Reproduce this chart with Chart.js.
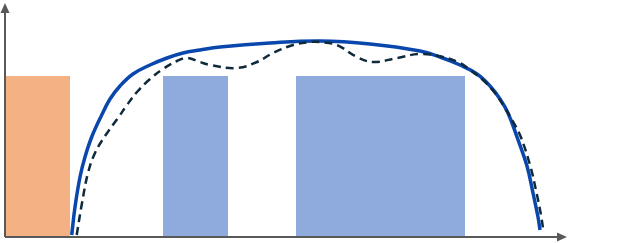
<!DOCTYPE html>
<html>
<head>
<meta charset="utf-8">
<script src="https://cdn.jsdelivr.net/npm/chart.js@4/dist/chart.umd.min.js"></script>
<style>
  html, body { margin: 0; padding: 0; background: #fff; }
  #wrap { width: 620px; height: 243px; }
</style>
</head>
<body>
<div id="wrap"><canvas id="chart"></canvas></div>
<script>
// x: distance from the y axis, y: height above the x axis
var barOrange = [[0, 0], [0, 161], [65, 161], [65, 0]];
var barBlue1 = [[158, 0], [158, 161], [223, 161], [223, 0]];
var barBlue2 = [[291, 0], [291, 161], [460, 161], [460, 0]];

var solidX = [66.7, 70, 75, 80, 86.7, 96.7, 105, 115, 128, 145, 162, 178, 195, 215, 265, 315, 365, 415, 435, 455, 472, 485, 495, 503, 512, 522, 528, 533, 535];
var solidY = [2, 30, 60, 80, 100, 122, 138, 151, 163, 172, 179, 184, 187, 190, 194, 196, 193, 186, 180, 172, 163, 151, 138, 124, 100, 71, 44, 20, 7];

var dashX = [71.7, 77, 83, 90, 100, 113, 122, 132, 145, 158, 172, 182, 195, 205, 232, 252, 268, 288, 305, 315, 332, 352, 368, 392, 415, 438, 455, 465, 478, 490, 500, 507, 515, 525, 532, 536, 538];
var dashY = [2, 34, 64, 84, 101, 119, 132, 145, 158, 168, 176, 179, 175, 172, 169, 175, 184, 192, 195, 195, 192, 180, 175, 179, 183, 180, 174, 167, 157, 144, 129, 117, 102, 72, 42, 22, 9];

function pts(xs, ys) {
  var out = [];
  for (var i = 0; i < xs.length; i++) out.push({x: xs[i], y: ys[i]});
  return out;
}
function rect(r) {
  return r.map(function (p) { return {x: p[0], y: p[1]}; });
}

var axisArrows = {
  id: 'axisArrows',
  afterDraw: function (chart) {
    var c = chart.ctx, a = chart.chartArea;
    c.save();
    c.strokeStyle = '#595959';
    c.fillStyle = '#595959';
    c.lineWidth = 2;
    c.beginPath();
    c.moveTo(a.left, a.bottom);
    c.lineTo(a.right - 4, a.bottom);
    c.moveTo(a.left, a.bottom);
    c.lineTo(a.left, a.top + 6);
    c.stroke();
    // arrow heads
    c.beginPath();
    c.moveTo(a.right + 2, a.bottom);
    c.lineTo(a.right - 8, a.bottom - 4.5);
    c.lineTo(a.right - 8, a.bottom + 4.5);
    c.closePath();
    c.fill();
    c.beginPath();
    c.moveTo(a.left, a.top - 2);
    c.lineTo(a.left - 4.5, a.top + 8);
    c.lineTo(a.left + 4.5, a.top + 8);
    c.closePath();
    c.fill();
    c.restore();
  }
};

var ctx = document.getElementById('chart');
var myChart = new Chart(ctx, {
  type: 'line',
  data: {
    datasets: [
      {
        data: pts(dashX, dashY),
        borderColor: '#0e2a3b',
        borderWidth: 2.5,
        borderDash: [8, 5],
        tension: 0.4,
        pointRadius: 0,
        fill: false,
        clip: false,
        order: 1
      },
      {
        data: pts(solidX, solidY),
        borderColor: '#0a47ad',
        borderWidth: 3.5,
        tension: 0.4,
        pointRadius: 0,
        fill: false,
        clip: false,
        order: 2
      },
      {
        data: rect(barOrange),
        borderWidth: 0,
        borderColor: 'rgba(0,0,0,0)',
        backgroundColor: '#f4b183',
        pointRadius: 0,
        tension: 0,
        fill: 'origin',
        order: 3
      },
      {
        data: rect(barBlue1),
        borderWidth: 0,
        borderColor: 'rgba(0,0,0,0)',
        backgroundColor: '#8faadc',
        pointRadius: 0,
        tension: 0,
        fill: 'origin',
        order: 3
      },
      {
        data: rect(barBlue2),
        borderWidth: 0,
        borderColor: 'rgba(0,0,0,0)',
        backgroundColor: '#8faadc',
        pointRadius: 0,
        tension: 0,
        fill: 'origin',
        order: 3
      }
    ]
  },
  options: {
    responsive: true,
    maintainAspectRatio: false,
    animation: false,
    layout: { padding: { left: 5, top: 5, right: 55, bottom: 6 } },
    plugins: { legend: { display: false }, tooltip: { enabled: false } },
    scales: {
      x: { type: 'linear', min: 0, max: 560, display: false },
      y: { type: 'linear', min: 0, max: 232, display: false }
    }
  },
  plugins: [axisArrows]
});
</script>
</body>
</html>
